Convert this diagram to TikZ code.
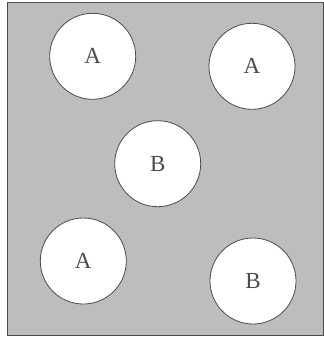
\documentclass[tikz,border=0pt]{standalone}
\usepackage{fontspec}
\setmainfont{Liberation Serif}
\definecolor{fondo}{gray}{0.74}
\definecolor{borde}{gray}{0.3}
\begin{document}
\begin{tikzpicture}[x=1pt, y=-1pt,
    grano/.style={circle, draw=borde, thick, fill=white, minimum size=86pt, inner sep=0pt,
        font=\fontsize{23}{26}\selectfont, text=black!70}]
    \useasboundingbox (0,0) rectangle (324,338);

    % Caja de fondo
    \draw[fill=fondo, draw=borde, thick] (7,2) rectangle (323,335);

    % Granos A
    \node[grano] (a1) at (92.7,56.3) {A};
    \node[grano] (a2) at (252,66.3) {A};
    \node[grano] (a3) at (83.3,261) {A};

    % Granos B
    \node[grano] (b1) at (157.7,163.7) {B};
    \node[grano] (b2) at (253,281) {B};
\end{tikzpicture}
\end{document}
